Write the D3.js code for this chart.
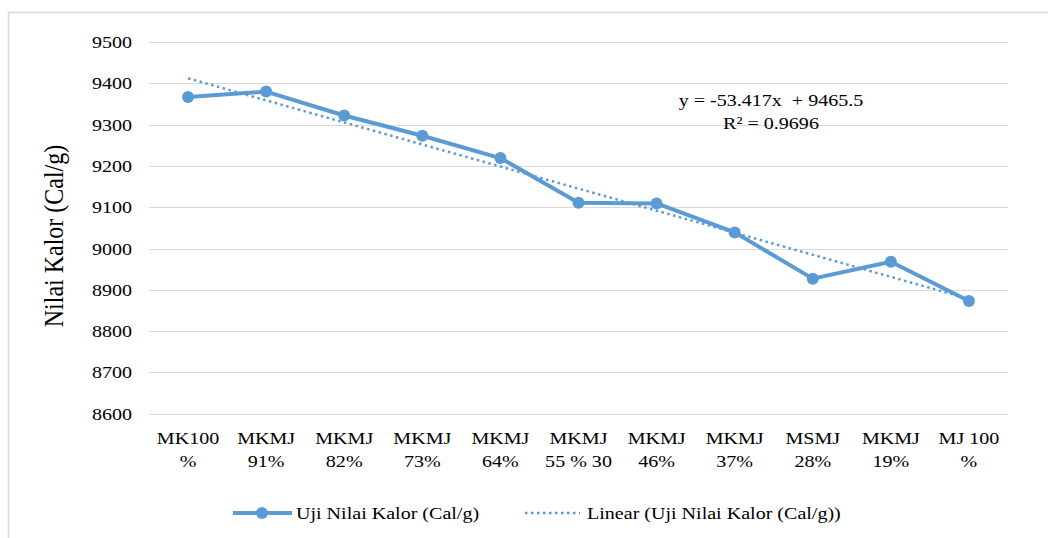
<!DOCTYPE html>
<html>
<head>
<meta charset="utf-8">
<script src="https://cdn.jsdelivr.net/npm/d3@7"></script>
<style>
  html, body { margin: 0; padding: 0; background: #fff; }
  svg { display: block; }
</style>
</head>
<body>
<script>
const categoryLine1 = ["MK100", "MKMJ", "MKMJ", "MKMJ", "MKMJ", "MKMJ", "MKMJ", "MKMJ", "MSMJ", "MKMJ", "MJ 100"];
const categoryLine2 = ["%", "91%", "82%", "73%", "64%", "55 % 30", "46%", "37%", "28%", "19%", "%"];
const kalorValues = [9367, 9380, 9322, 9273, 9219, 9111, 9109, 9039, 8927, 8968, 8873];
const yTicks = [8600, 8700, 8800, 8900, 9000, 9100, 9200, 9300, 9400, 9500];
const trendSlope = -53.417;
const trendIntercept = 9465.5;
const equationLines = ["y = -53.417x  + 9465.5", "R\u00B2 = 0.9696"];
const seriesName = "Uji Nilai Kalor (Cal/g)";
const trendName = "Linear (Uji Nilai Kalor (Cal/g))";
const axisTitle = "Nilai Kalor (Cal/g)";

const W = 1048, H = 538;
const SX = 1.18; // horizontal stretch of the reference text
const blue = "#5B9BD5";
const FONT = "Liberation Serif";
const INK = "#000";

const svg = d3.select("body").append("svg").attr("width", W).attr("height", H);

// frame
svg.append("path")
  .attr("d", `M8.5,${H} L8.5,12.5 L${W},12.5`)
  .attr("fill", "none").attr("stroke", "#d9d9d9").attr("stroke-width", 1.5);

const idx = d3.range(categoryLine1.length);
const x = d3.scaleBand().domain(idx).range([149, 1008]);
const cx = i => x(i) + x.bandwidth() / 2;
const y = d3.scaleLinear().domain([8600, 9500]).range([413.7, 42]);

function stretchedText(g, tx, ty, str, size, anchor) {
  return g.append("text")
    .attr("transform", `translate(${tx},${ty}) scale(${SX},1)`)
    .attr("text-anchor", anchor)
    .attr("font-family", FONT)
    .attr("font-size", size)
    .attr("fill", INK)
    .text(str);
}

// gridlines
svg.append("g").selectAll("line").data(yTicks).join("line")
  .attr("x1", 149).attr("x2", 1008)
  .attr("y1", d => Math.round(y(d)) + 0.5).attr("y2", d => Math.round(y(d)) + 0.5)
  .attr("stroke", "#d9d9d9").attr("stroke-width", 1);

// y tick labels
const yl = svg.append("g");
yTicks.forEach(t => stretchedText(yl, 132, y(t) + 6, String(t), 17, "end"));

// axis title
svg.append("text")
  .attr("transform", `translate(63,236) rotate(-90) scale(1,${SX})`)
  .attr("text-anchor", "middle")
  .attr("font-family", FONT)
  .attr("font-size", 24)
  .attr("fill", INK)
  .text(axisTitle);

// category labels
const xl = svg.append("g");
idx.forEach(i => {
  stretchedText(xl, cx(i), 444, categoryLine1[i], 17, "middle");
  stretchedText(xl, cx(i), 467, categoryLine2[i], 17, "middle");
});

// trend line (from fitted equation shown on chart)
const trendPts = idx.map(i => [cx(i), y(trendSlope * (i + 1) + trendIntercept)]);
svg.append("path")
  .attr("d", d3.line()([trendPts[0], trendPts[trendPts.length - 1]]))
  .attr("fill", "none").attr("stroke", blue)
  .attr("stroke-width", 2.5).attr("stroke-dasharray", "2.5,3.5");

// series line
svg.append("path")
  .datum(kalorValues)
  .attr("d", d3.line().x((d, i) => cx(i)).y(d => y(d)))
  .attr("fill", "none").attr("stroke", blue)
  .attr("stroke-width", 4).attr("stroke-linejoin", "round");

svg.append("g").selectAll("circle").data(kalorValues).join("circle")
  .attr("cx", (d, i) => cx(i)).attr("cy", d => y(d))
  .attr("r", 6).attr("fill", blue);

// equation
const eq = svg.append("g");
stretchedText(eq, 771, 106, equationLines[0], 17, "middle").style("white-space", "pre");
stretchedText(eq, 771, 129, equationLines[1], 17, "middle");

// legend
const lg = svg.append("g");
lg.append("line").attr("x1", 233).attr("x2", 292).attr("y1", 513).attr("y2", 513)
  .attr("stroke", blue).attr("stroke-width", 4);
lg.append("circle").attr("cx", 262).attr("cy", 513).attr("r", 6).attr("fill", blue);
stretchedText(lg, 296, 519, seriesName, 17, "start");
lg.append("line").attr("x1", 525).attr("x2", 580).attr("y1", 513).attr("y2", 513)
  .attr("stroke", blue).attr("stroke-width", 2.5).attr("stroke-dasharray", "2.5,3.5");
stretchedText(lg, 587, 519, trendName, 17, "start");
</script>
</body>
</html>
